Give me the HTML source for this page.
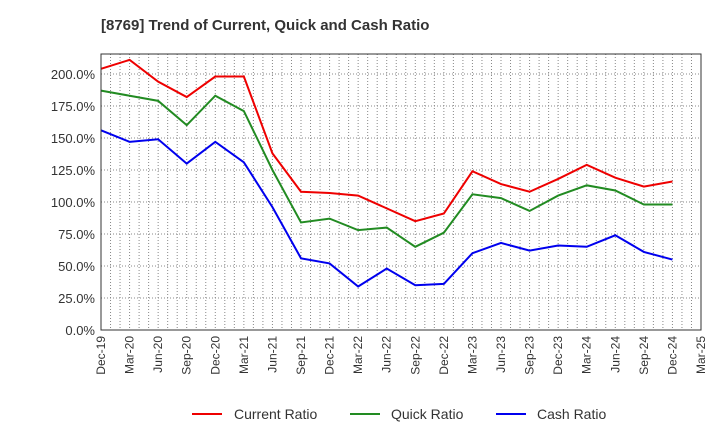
<!DOCTYPE html>
<html><head><meta charset="utf-8"><style>
body{margin:0;background:#fff;font-family:"Liberation Sans",Arial,sans-serif}
</style></head><body>
<svg id="chart" width="720" height="440" xmlns="http://www.w3.org/2000/svg" font-family="Liberation Sans, Arial, sans-serif">
<text x="101" y="30" font-size="15" font-weight="bold" fill="#333">[8769]  Trend of Current, Quick and Cash Ratio</text>
<g id="grid"></g>
<g id="series"></g>
<rect x="101" y="54" width="600" height="276" fill="none" stroke="#333" stroke-width="1"/>
<g id="axes"></g>
<g font-size="14" fill="#333">
<g><line x1="192" y1="414" x2="222" y2="414" stroke="#e00" stroke-width="2"/><text x="234" y="419">Current Ratio</text></g>
<g><line x1="350" y1="414" x2="380" y2="414" stroke="#228b22" stroke-width="2"/><text x="391" y="419">Quick Ratio</text></g>
<g><line x1="496" y1="414" x2="526" y2="414" stroke="#00e" stroke-width="2"/><text x="537" y="419">Cash Ratio</text></g>
</g>
</svg>
<script>
const xLabels=["Dec-19","Mar-20","Jun-20","Sep-20","Dec-20","Mar-21","Jun-21","Sep-21","Dec-21","Mar-22","Jun-22","Sep-22","Dec-22","Mar-23","Jun-23","Sep-23","Dec-23","Mar-24","Jun-24","Sep-24","Dec-24","Mar-25"];
const yTicks=[0,25,50,75,100,125,150,175,200];
const currentRatio=[204,211,194,182,198,198,138,108,107,105,95,85,91,124,114,108,118,129,119,112,116];
const quickRatio=[187,183,179,160,183,171,125,84,87,78,80,65,76,106,103,93,105,113,109,98,98];
const cashRatio=[156,147,149,130,147,131,96,56,52,34,48,35,36,60,68,62,66,65,74,61,55];
const NS="http://www.w3.org/2000/svg";
const x0=101,x1=701,yBase=330,yTop=54,yMax=215.6;
const xs=i=>x0+i*(x1-x0)/(xLabels.length-1);
const ys=v=>yBase-v/yMax*(yBase-yTop);
function mk(t,a,p){const e=document.createElementNS(NS,t);for(const k in a)e.setAttribute(k,a[k]);p.appendChild(e);return e;}
const grid=document.getElementById('grid'),axes=document.getElementById('axes'),ser=document.getElementById('series');
for(let m=1;m<(xLabels.length-1)*3;m++){
 const xm=xs(m/3);
 const g=mk('line',{x1:xm,x2:xm,y1:yTop,y2:yBase,stroke:'#888','stroke-dasharray':'1,2'},grid);
 
 
}
xLabels.forEach((l,i)=>{
 const t=mk('text',{transform:`translate(${xs(i)+4},${yBase+6}) rotate(-90)`,'text-anchor':'end','font-size':'12',fill:'#333'},axes);
 t.textContent=l;
 
 
});
yTicks.forEach(v=>{
 const g=mk('line',{x1:x0,x2:x1,y1:ys(v),y2:ys(v),stroke:'#888','stroke-dasharray':'1,2'},grid);
 
 
 const t=mk('text',{x:x0-6,y:ys(v)+5,'text-anchor':'end','font-size':'13',fill:'#333'},axes);
 t.textContent=v.toFixed(1)+'%';
 
 
});
[[currentRatio,'#e00','current-ratio-line'],[quickRatio,'#228b22','quick-ratio-line'],[cashRatio,'#00e','cash-ratio-line']].forEach(([d,c,n])=>{
 const p=mk('polyline',{points:d.map((v,i)=>xs(i)+','+ys(v)).join(' '),fill:'none',stroke:c,'stroke-width':2},ser);
 
 
});
</script>
</body></html>
